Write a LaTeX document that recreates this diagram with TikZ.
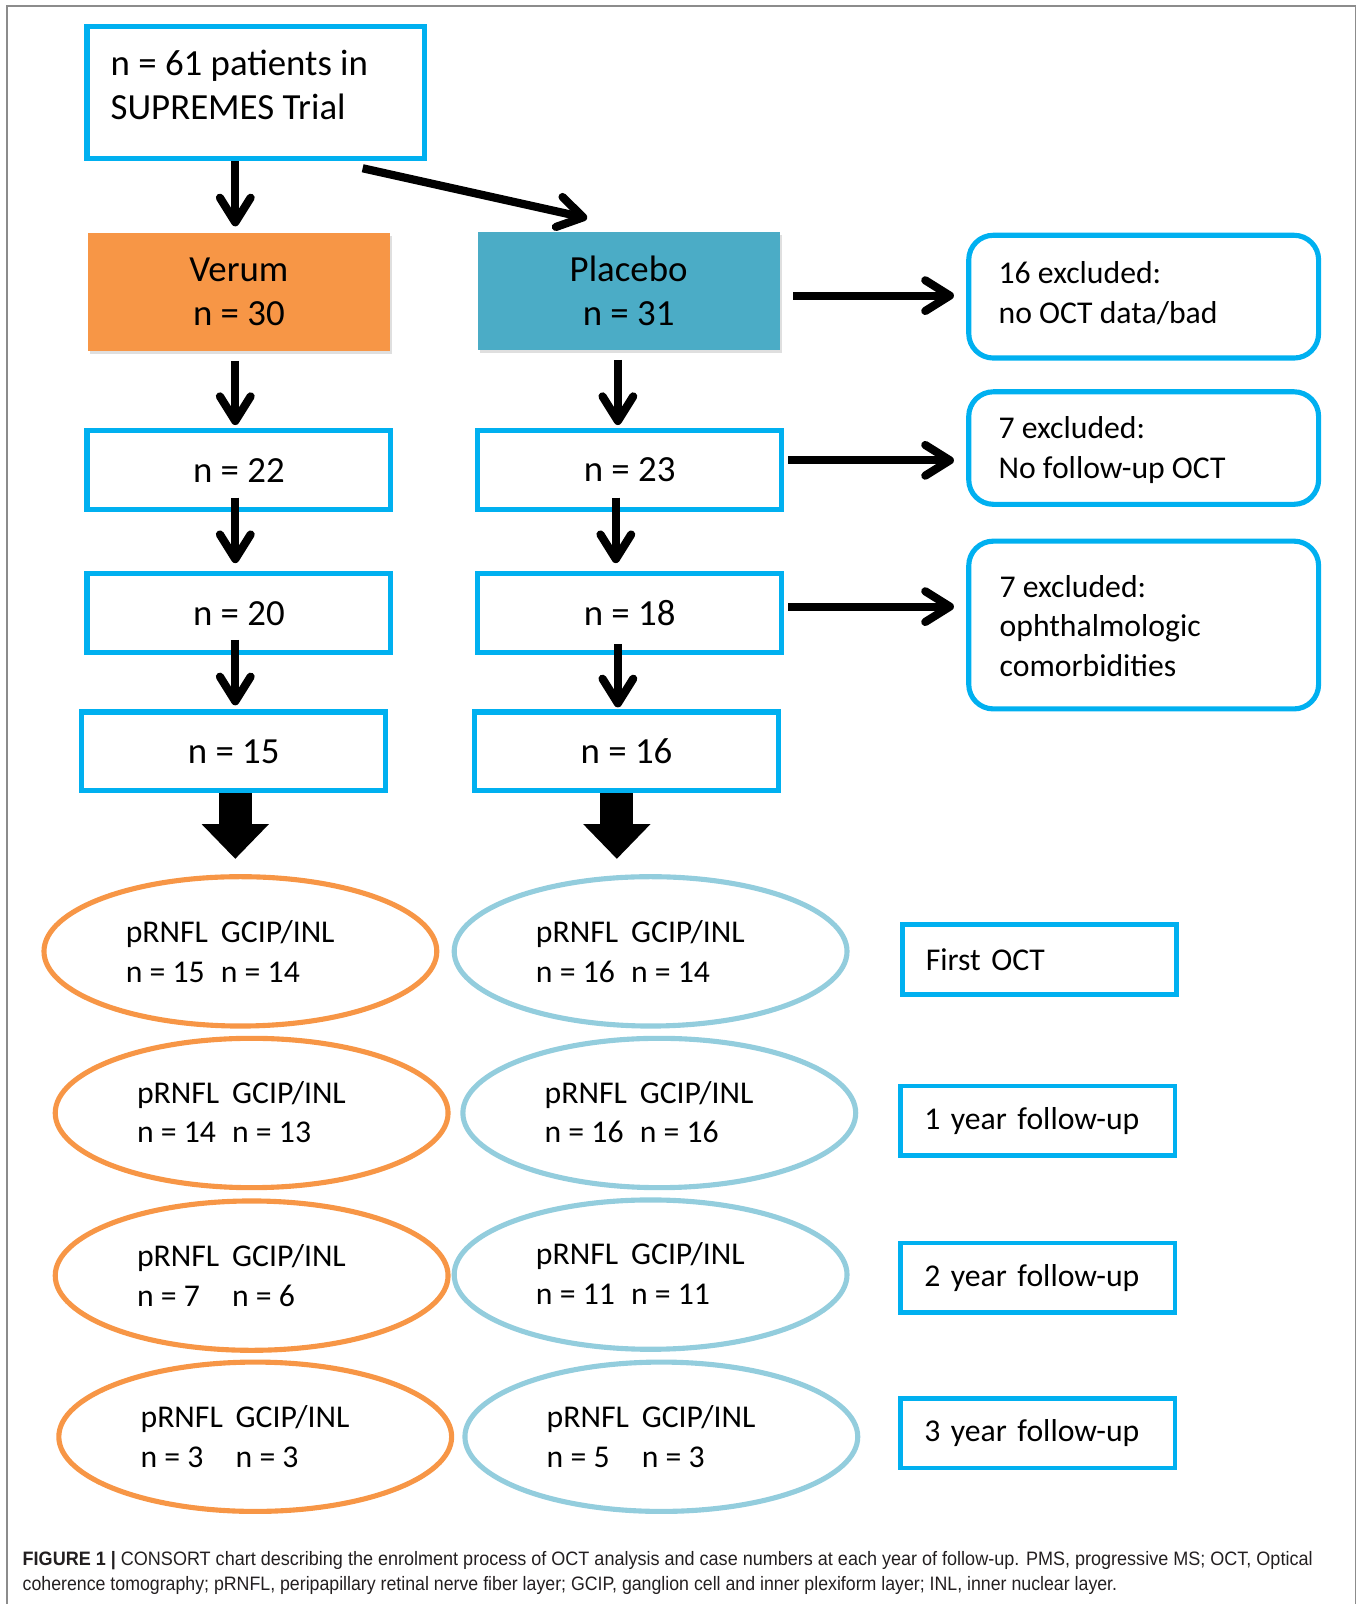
\documentclass[tikz,border=0pt]{standalone}
\usepackage{fontspec}
\usepackage{graphicx}
\setmainfont{Carlito}
\newfontfamily\capfont{Liberation Sans}
\usetikzlibrary{arrows.meta,shapes.geometric,calc,shadows}
\definecolor{bbox}{HTML}{00B0F0}
\definecolor{vfill}{HTML}{F79646}
\definecolor{pfill}{HTML}{4BACC6}
\definecolor{pell}{HTML}{93CDDD}
\definecolor{framec}{HTML}{8C8C8C}
\definecolor{captc}{HTML}{231F20}
\begin{document}
\begin{tikzpicture}[x=1pt,y=-1pt,
  bigf/.style={font=\fontsize{36}{43}\selectfont},
  midf/.style={font=\fontsize{31}{39}\selectfont},
  bluebox/.style={draw=bbox, line width=5pt, inner sep=0pt},
  groupbox/.style={minimum width=295pt, minimum height=116pt, align=center, bigf, inner sep=0pt,
    drop shadow={shadow xshift=2pt, shadow yshift=-3pt, opacity=0.25}},
  numbox/.style={bluebox, minimum width=297pt, minimum height=77pt, bigf},
  exbox/.style={draw=bbox, line width=5pt, rounded corners=24pt, minimum width=342pt, inner sep=0pt},
  extxt/.style={anchor=west, align=left, inner sep=0pt, midf},
  fubox/.style={bluebox, line width=4.5pt, inner xsep=23pt, text width=222pt, minimum height=68pt, align=left, midf},
  ellv/.style={draw=vfill, line width=5pt, ellipse, minimum width=384pt, minimum height=146pt, inner sep=0pt},
  ellp/.style={draw=pell, line width=5pt, ellipse, minimum width=384pt, minimum height=146pt, inner sep=0pt},
  elltxt/.style={inner sep=0pt, midf},
  arr/.style={line width=8pt, -{Straight Barb[length=24pt,width=30pt,round]}},
  fat/.style={line width=32pt, -{Triangle[length=34pt,width=66pt,line width=0pt]}},
  captxt/.style={inner sep=0pt, anchor=base west, text=captc, font=\capfont\fontsize{19}{22}\selectfont}
]
\useasboundingbox (0,0) rectangle (1331,1568);
\draw[framec, line width=1.5pt] (7,1568) -- (7,6) -- (1325,6) -- (1325,1568);

% top
\node[bluebox, minimum width=330pt, minimum height=129pt] (top) at (250,90.5) {};
\node[anchor=west, align=left, inner sep=0pt, bigf] (toptxt) at (108,83) {n = 61 patients in\\SUPREMES Trial};

% groups
\node[groupbox, fill=vfill] (verum) at (233.5,285.5) {Verum\\n = 30};
\node[groupbox, fill=pfill] (placebo) at (614.5,284.5) {Placebo\\n = 31};

% number boxes
\node[numbox] (n22) at (233.5,459.5) {n = 22};
\node[numbox] (n20) at (233.5,599.5) {n = 20};
\node[numbox] (n15) at (228.5,734.5) {n = 15};
\node[numbox] (n23) at (615.5,459.5) {n = 23};
\node[numbox] (n18) at (615.5,599.5) {n = 18};
\node[numbox] (n16) at (612.5,734.5) {n = 16};

% exclusion boxes
\node[exbox, minimum height=120pt] (ex1) at (1118,290) {};
\node[exbox, minimum height=110pt] (ex2) at (1118,438) {};
\node[exbox, minimum height=164pt] (ex3) at (1118,611) {};
\node[extxt] (ex1t) at (976,287) {16 excluded:\\no OCT data/bad};
\node[extxt] (ex2t) at (976,440) {7 excluded:\\No follow-up OCT};
\node[extxt] (ex3t) at (977,612) {7 excluded:\\ophthalmologic\\comorbidities};

% ellipses
\node[ellv] (v1) at (235,930) {};
\node[ellp] (p1) at (636,930) {};
\node[ellv] (v2) at (246,1088) {};
\node[ellp] (p2) at (644.5,1088) {};
\node[ellv] (v3) at (246,1247) {};
\node[ellp] (p3) at (636,1246) {};
\node[ellv] (v4) at (249.5,1404.5) {};
\node[ellp] (p4) at (646.5,1404.5) {};

\node[elltxt] (v1t) at ($(v1.center)+(-10,3)$) {\begin{tabular}{@{}p{93pt}@{}l@{}}pRNFL & GCIP/INL\\ n = 15 & n = 14\end{tabular}};
\node[elltxt] (p1t) at ($(p1.center)+(-10,3)$) {\begin{tabular}{@{}p{93pt}@{}l@{}}pRNFL & GCIP/INL\\ n = 16 & n = 14\end{tabular}};
\node[elltxt] (v2t) at ($(v2.center)+(-10,2)$) {\begin{tabular}{@{}p{93pt}@{}l@{}}pRNFL & GCIP/INL\\ n = 14 & n = 13\end{tabular}};
\node[elltxt] (p2t) at ($(p2.center)+(-10,2)$) {\begin{tabular}{@{}p{93pt}@{}l@{}}pRNFL & GCIP/INL\\ n = 16 & n = 16\end{tabular}};
\node[elltxt] (v3t) at ($(v3.center)+(-10,3)$) {\begin{tabular}{@{}p{93pt}@{}l@{}}pRNFL & GCIP/INL\\ n = 7 & n = 6\end{tabular}};
\node[elltxt] (p3t) at ($(p3.center)+(-10,2)$) {\begin{tabular}{@{}p{93pt}@{}l@{}}pRNFL & GCIP/INL\\ n = 11 & n = 11\end{tabular}};
\node[elltxt] (v4t) at ($(v4.center)+(-10,3)$) {\begin{tabular}{@{}p{93pt}@{}l@{}}pRNFL & GCIP/INL\\ n = 3 & n = 3\end{tabular}};
\node[elltxt] (p4t) at ($(p4.center)+(-10,3)$) {\begin{tabular}{@{}p{93pt}@{}l@{}}pRNFL & GCIP/INL\\ n = 5 & n = 3\end{tabular}};

% follow-up boxes
\node[fubox] (f0) at (1016,938) {First OCT};
\node[fubox] (f1) at (1014.5,1095.5) {1 year follow-up};
\node[fubox] (f2) at (1014.5,1249) {2 year follow-up};
\node[fubox] (f3) at (1014.5,1401) {3 year follow-up};

% connectors
\draw[arr] ($(top.south)+(-20,0)$) -- ($(verum.north)+(-3.5,-6)$);
\draw[arr] ($(top.south east)+(-63,7)$) -- ($(placebo.north)+(-40.5,-13)$);
\draw[arr] ($(placebo.east |- ex1.west)+(13,-1)$) -- ($(ex1.west)+(-12,-1)$);
\draw[arr] ($(n23.east)+(4,-9.5)$) -- ($(ex2.west)+(-12,12)$);
\draw[arr] ($(n18.east)+(4,-6.5)$) -- ($(ex3.west)+(-12,-18)$);

\draw[arr] ($(verum.south)+(-3.5,9)$) -- ($(n22.north)+(-3.5,-3)$);
\draw[arr] ($(n22.south)+(-3.5,-14)$) -- ($(n20.north)+(-3.5,-8)$);
\draw[arr] ($(n20.south)+(-3.5,-15)$) -- ($(n15.north)+(1.5,-4)$);
\draw[arr] ($(placebo.south)+(-10.5,9)$) -- ($(n23.north)+(-11.5,-3)$);
\draw[arr] ($(n23.south)+(-13.5,-14)$) -- ($(n18.north)+(-13.5,-8)$);
\draw[arr] ($(n18.south)+(-11.5,-11)$) -- ($(n16.north)+(-8.5,-2)$);

\draw[fat] ($(n15.south)+(1.5,0)$) -- ($(v1.north)+(-5,-15)$);
\draw[fat] ($(n16.south)+(-9.5,0)$) -- ($(p1.north)+(-33,-15)$);

% caption
\node[captxt] (cap1) at (22,1530) {\resizebox{1261pt}{\height}{\textbf{FIGURE 1 |} CONSORT chart describing the enrolment process of OCT analysis and case numbers at each year of follow-up. PMS, progressive MS; OCT, Optical}};
\node[captxt] (cap2) at (22,1555) {\resizebox{1070pt}{\height}{coherence tomography; pRNFL, peripapillary retinal nerve fiber layer; GCIP, ganglion cell and inner plexiform layer; INL, inner nuclear layer.}};
\end{tikzpicture}
\end{document}
